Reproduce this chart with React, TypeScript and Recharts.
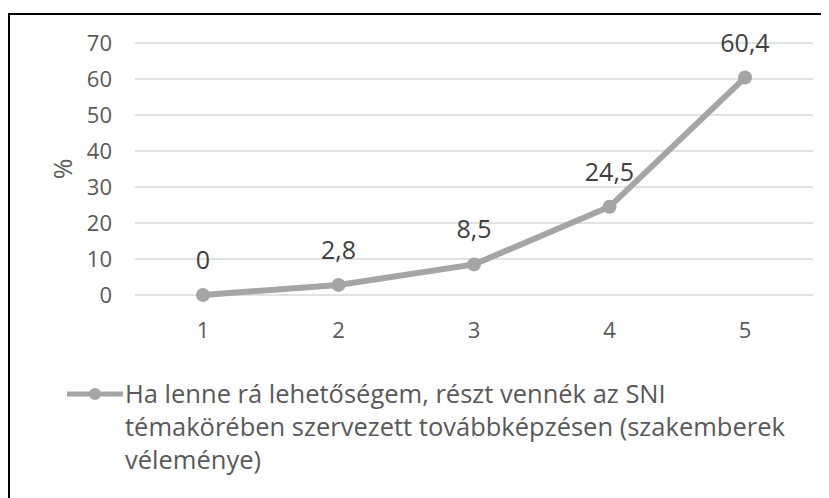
import React from 'react';
import { LineChart, Line, XAxis, YAxis, CartesianGrid, LabelList, Legend } from 'recharts';

const categories = ['1', '2', '3', '4', '5'];
const values = [0, 2.8, 8.5, 24.5, 60.4];
const yTicks = [0, 10, 20, 30, 40, 50, 60, 70];
const legendLines = [
  'Ha lenne rá lehetőségem, részt vennék az SNI',
  'témakörében szervezett továbbképzésen (szakemberek',
  'véleménye)',
];
const seriesName = legendLines.join(' ');
const yAxisTitle = '%';

const data = categories.map((c, i) => ({ cat: c, value: values[i] }));

const FONT = '"Open Sans", sans-serif';
const LINE_COLOR = '#a5a5a5';
const TEXT_COLOR = '#595959';

const fmt = (v: number) => String(v).replace('.', ',');

const LegendContent = () => (
  <div style={{ position: 'relative', width: 817, height: 110, fontFamily: FONT, color: TEXT_COLOR }}>
    <svg width={60} height={20} style={{ position: 'absolute', left: 55, top: 6 }}>
      <line x1={2} y1={10} x2={58} y2={10} stroke={LINE_COLOR} strokeWidth={5} />
      <circle cx={30} cy={10} r={6} fill={LINE_COLOR} />
    </svg>
    <div style={{ position: 'absolute', left: 115, top: -1, fontSize: 25.5, lineHeight: '33px', whiteSpace: 'nowrap' }}>
      {legendLines.map((l, i) => (
        <div key={i}>{l}</div>
      ))}
    </div>
  </div>
);

export default function App() {
  return (
    <div
      style={{
        marginTop: 5,
        width: 821,
        height: 492,
        border: '2px solid #000',
        boxSizing: 'border-box',
        background: '#fff',
        overflow: 'hidden',
      }}
    >
      <LineChart
        width={817}
        height={470}
        data={data}
        margin={{ top: 28, right: 14, left: 0, bottom: 130 }}
        style={{ fontFamily: FONT }}
      >
        <CartesianGrid horizontal vertical={false} stroke="#d9d9d9" strokeWidth={1.5} />
        <XAxis
          dataKey="cat"
          axisLine={false}
          tickLine={false}
          tickSize={0}
          tickMargin={27}
          height={60}
          padding={{ left: 68, right: 68 }}
          fontSize={22}
          tick={{ fill: TEXT_COLOR, fontSize: 22, fontFamily: FONT }}
        />
        <YAxis
          domain={[0, 70]}
          ticks={yTicks}
          axisLine={false}
          tickLine={false}
          tickSize={0}
          tickMargin={23}
          width={125}
          fontSize={22}
          tick={{ fill: TEXT_COLOR, fontSize: 22, fontFamily: FONT }}
          label={{
            content: (props: any) => {
              const vb = props.viewBox || { x: 0, y: 0, width: 0, height: 0 };
              const cx = vb.x + 52;
              const cy = vb.y + vb.height / 2;
              return (
                <text
                  x={cx}
                  y={cy}
                  transform={`rotate(-90 ${cx} ${cy})`}
                  textAnchor="middle"
                  dominantBaseline="central"
                  fill={TEXT_COLOR}
                  fontSize={25}
                  fontFamily={FONT}
                >
                  {yAxisTitle}
                </text>
              );
            },
          }}
        />
        <Legend
          layout="horizontal"
          verticalAlign="middle"
          align="center"
          wrapperStyle={{ top: 363, left: 0, width: 817 }}
          content={<LegendContent />}
        />
        <Line
          type="linear"
          dataKey="value"
          name={seriesName}
          stroke={LINE_COLOR}
          strokeWidth={6}
          dot={{ r: 7, fill: LINE_COLOR, stroke: LINE_COLOR, strokeWidth: 0 }}
          activeDot={false}
          isAnimationActive={false}
        >
          <LabelList
            dataKey="value"
            position="top"
            offset={26}
            formatter={(v: any) => fmt(v)}
            fill="#404040"
            fontSize={25}
            fontFamily={FONT}
          />
        </Line>
      </LineChart>
    </div>
  );
}
